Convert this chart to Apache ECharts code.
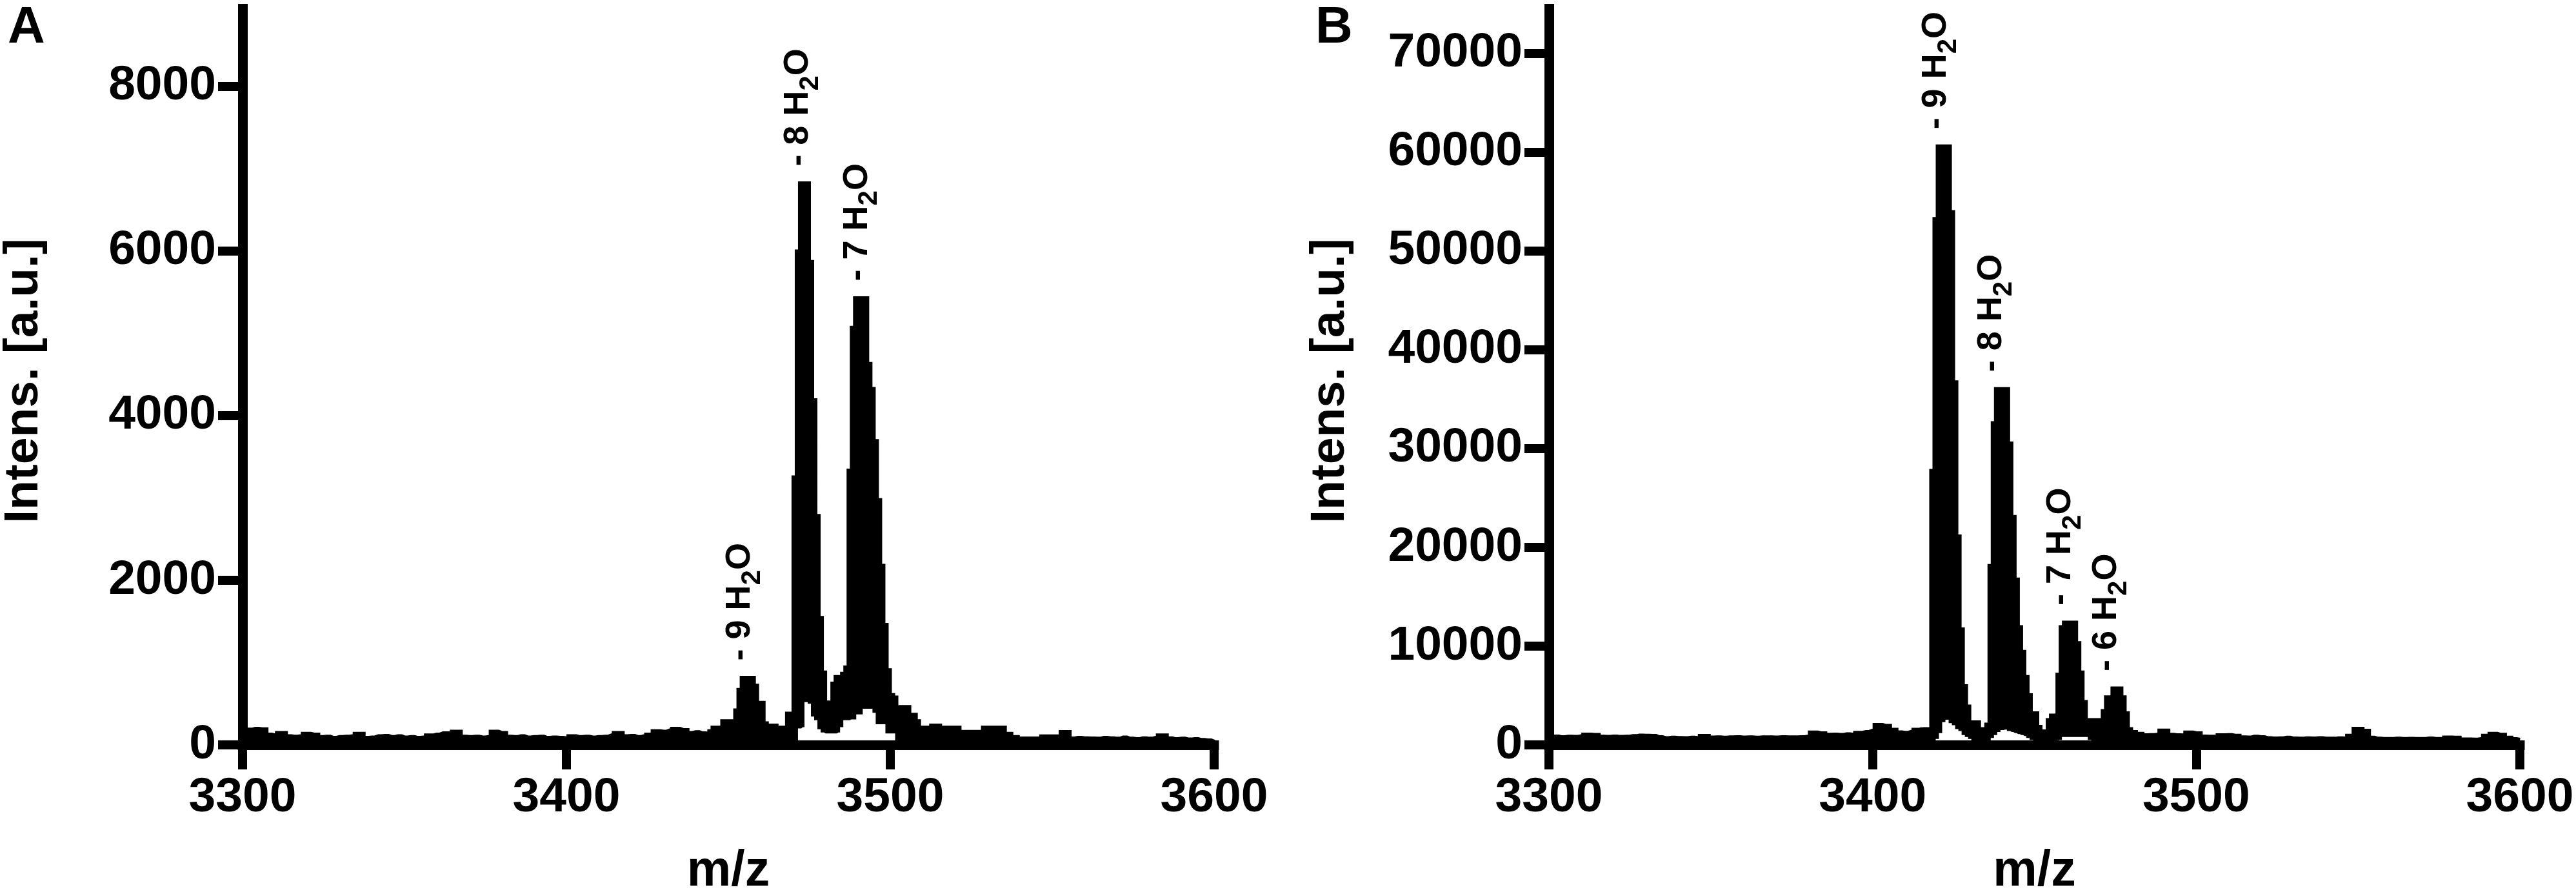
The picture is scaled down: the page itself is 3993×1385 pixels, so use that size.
<!DOCTYPE html>
<html><head><meta charset="utf-8">
<script src="https://cdn.jsdelivr.net/npm/echarts@6/dist/echarts.min.js"></script>
<style>html,body{margin:0;padding:0;background:#fff}#c{width:3993px;height:1385px}</style>
</head><body><div id="c"></div>
<script>
// ---------- Panel A : spectrum (upper envelope) [m/z, intensity] ----------
const spectrumA = [
[3300,100],[3302,170],[3304,180],[3306,175],[3308,110],[3310,100],[3312,130],[3314,90],[3316,85],[3318,90],
[3320,120],[3322,110],[3324,80],[3326,85],[3328,70],[3330,80],[3332,85],[3334,90],[3336,120],[3338,70],
[3340,75],[3342,90],[3344,95],[3346,80],[3348,90],[3350,75],[3352,80],[3354,70],[3356,75],[3358,100],
[3360,110],[3362,125],[3364,90],[3366,145],[3368,85],[3370,80],[3372,85],[3374,75],[3376,80],[3378,145],
[3380,130],[3382,85],[3384,80],[3386,90],[3388,75],[3390,80],[3392,85],[3394,70],[3396,75],[3398,70],
[3400,65],[3402,90],[3404,80],[3406,85],[3408,75],[3410,80],[3412,85],[3414,100],[3416,130],[3418,90],
[3420,95],[3422,80],[3424,90],[3426,110],[3428,150],[3430,145],[3432,160],[3434,180],[3436,165],[3438,130],
[3440,140],[3442,125],[3444,115],
[3445,150],[3446,194],[3447,194],[3448,194],[3449,272],[3450,272],[3451,272],[3452,272],[3453,403],[3454,652],
[3455,800],[3456,800],[3457,800],[3458,704],[3459,495],[3460,495],[3461,246],[3462,220],[3463,220],[3464,220],
[3465,194],[3466,194],[3467,194],[3468,194],[3469,364],[3470,364],[3471,3234],[3472,5977],[3473,6804],[3474,6804],
[3475,5851],[3476,4171],[3477,2765],[3478,1526],[3479,865],[3480,500],[3481,480],[3482,430],[3483,730],[3484,809],
[3485,809],[3486,848],[3487,926],[3488,3316],[3489,5051],[3490,5410],[3491,5410],[3492,5410],[3493,4611],[3494,4308],
[3495,3674],[3496,2958],[3497,2159],[3498,1443],[3499,892],[3500,589],[3501,560],[3502,430],[3503,445],[3504,445],
[3505,445],[3506,350],[3507,350],[3508,272],[3509,194],[3510,194],[3511,194],[3512,194],
[3514,220],[3516,170],[3518,194],[3520,194],[3522,144],[3524,144],[3526,144],[3528,144],[3530,194],[3532,194],
[3534,194],[3536,120],[3538,80],[3540,40],[3542,63],[3544,63],[3546,63],[3548,89],[3550,89],[3552,89],
[3554,141],[3556,63],[3558,70],[3560,65],[3562,63],[3564,60],[3566,70],[3568,65],[3570,60],[3572,75],
[3574,60],[3576,55],[3578,65],[3580,60],[3582,70],[3584,100],[3586,65],[3588,55],[3590,60],[3592,50],
[3594,55],[3596,45],[3598,40],[3600,25]
];
// Panel A : lower envelope of the trace (white pocket under the peaks)
const lowerA = [
[3471,0],[3472,200],[3473,215],[3474,520],[3475,500],[3476,345],[3477,300],[3478,190],[3479,150],[3480,140],
[3481,140],[3482,140],[3483,140],[3484,150],[3485,215],[3486,300],[3487,300],[3488,310],[3489,310],[3490,370],
[3491,370],[3492,440],[3493,440],[3494,440],[3495,390],[3496,250],[3497,250],[3498,250],[3499,140],[3500,140],
[3501,140],[3502,0]
];
// Panel A : peak annotations [m/z, peak intensity, water count]
const peaksA = [[3455,800,'9'],[3472.9,6804,'8'],[3491.1,5410,'7']];

// ---------- Panel B ----------
const spectrumB = [
[3300,700],[3302,720],[3304,650],[3306,700],[3308,680],[3310,750],[3312,920],[3314,880],[3316,700],[3318,690],
[3320,720],[3322,680],[3324,700],[3326,760],[3328,810],[3330,800],[3332,780],[3334,650],[3336,560],[3338,600],
[3340,570],[3342,560],[3344,600],[3346,560],[3348,790],[3350,620],[3352,640],[3354,600],[3356,630],[3358,650],
[3360,620],[3362,640],[3364,610],[3366,630],[3368,640],[3370,620],[3372,650],[3374,630],[3376,640],[3378,660],
[3380,700],[3382,1130],[3384,1050],[3386,900],[3388,920],[3390,880],[3392,950],[3394,900],[3396,1100],[3398,1180],
[3400,1300],[3402,1900],[3404,1800],[3406,1400],[3408,1150],[3410,1100],[3412,1200],[3414,1400],
[3415,1450],[3416,1465],[3417,1465],[3418,1465],[3419,27600],[3420,53100],[3421,60440],[3422,60440],[3423,60440],[3424,53800],
[3425,36570],[3426,20970],[3427,11570],[3428,5820],[3429,3760],[3430,2160],[3431,2160],[3432,2160],[3433,1465],[3434,1465],
[3435,1465],[3436,1920],[3437,17990],[3438,32440],[3439,35890],[3440,35890],[3441,35890],[3442,30380],[3443,22950],[3444,16610],
[3445,11790],[3446,9290],[3447,6740],[3448,4900],[3449,3070],[3450,3070],[3451,1700],[3452,1240],[3453,1240],[3454,1240],
[3455,2380],[3456,2840],[3457,2840],[3458,6970],[3459,11790],[3460,12250],[3461,12250],[3462,12250],[3463,10180],[3464,7200],
[3465,4220],[3466,2160],[3467,1465],[3468,2380],[3469,2380],[3470,2380],[3471,1700],[3472,3300],[3473,4680],[3474,4680],
[3475,5590],[3476,5590],[3477,4680],[3478,3070],[3479,1465],
[3480,1180],[3482,1000],[3484,850],[3486,870],[3488,900],[3490,1330],[3492,900],[3494,850],[3496,830],[3498,1130],
[3500,1050],[3502,720],[3504,700],[3506,700],[3508,850],[3510,860],[3512,800],[3514,640],[3516,620],[3518,700],
[3520,650],[3522,560],[3524,520],[3526,540],[3528,600],[3530,520],[3532,500],[3534,540],[3536,520],[3538,560],
[3540,510],[3542,500],[3544,540],[3546,520],[3548,800],[3550,1500],[3552,1300],[3554,600],[3556,500],[3558,480],
[3560,470],[3562,500],[3564,480],[3566,490],[3568,470],[3570,480],[3572,520],[3574,470],[3576,480],[3578,620],
[3580,600],[3582,430],[3584,420],[3586,410],[3588,450],[3590,800],[3592,1000],[3594,900],[3596,600],[3598,450],
[3600,400]
];
const lowerB = [
[3419,0],[3420,600],[3421,1200],[3422,2300],[3423,2550],[3424,2200],[3425,2000],[3426,1600],[3427,1400],[3428,1000],
[3429,800],[3430,600],[3431,400],[3432,300],[3436,300],[3437,700],[3438,1000],[3439,1300],[3440,1500],[3441,1550],
[3442,1400],[3443,1300],[3444,1200],[3445,1100],[3446,1000],[3447,900],[3448,700],[3449,500],[3450,400],[3451,300],
[3457,300],[3458,500],[3459,800],[3466,800],[3467,500],[3468,400],[3478,400],[3479,0]
];
const peaksB = [[3421,60440,'9'],[3438.1,35890,'8'],[3459.4,12250,'7'],[3473.6,5590,'6']];

// ---------- axes ----------
const xTicks = [3300,3400,3500,3600];
const yTicksA = [0,2000,4000,6000,8000];
const yTicksB = [0,10000,20000,30000,40000,50000,60000,70000];
const yMaxA = 9000, yMaxB = 75000;
const panelLetters = ['A','B'];
const xName = 'm/z', yName = 'Intens. [a.u.]';

const FONT = '"Liberation Sans", Arial, Helvetica, sans-serif';
const K = '#000';

function xAxisCfg(idx){
  return {
    gridIndex: idx, type:'value', min: xTicks[0], max: xTicks[xTicks.length-1], interval: 100, z: 10,
    axisLine:{show:true, onZero:false, lineStyle:{color:K, width:15, cap:'square'}},
    axisTick:{show:true, length:38, lineStyle:{color:K, width:14}},
    axisLabel:{show:true, margin:45, fontSize:75, fontWeight:'bold', color:K, fontFamily:FONT, formatter:v=>String(v)},
    splitLine:{show:false},
    name:xName, nameLocation:'middle', nameGap:158,
    nameTextStyle:{fontSize:77, fontWeight:'bold', color:K, fontFamily:FONT}
  };
}
function yAxisCfg(idx, max, ticks){
  return {
    gridIndex: idx, type:'value', min:0, max:max, z: 10,
    axisLine:{show:true, lineStyle:{color:K, width:15, cap:'butt'}},
    axisTick:{show:true, length:38, customValues:ticks, lineStyle:{color:K, width:14}},
    axisLabel:{show:true, margin:41, customValues:ticks, fontSize:75, fontWeight:'bold', color:K, fontFamily:FONT, formatter:v=>String(v)},
    splitLine:{show:false},
    name:yName, nameLocation:'middle', nameGap:301,
    nameTextStyle:{fontSize:75, fontWeight:'bold', color:K, fontFamily:FONT, padding:[0,20,0,0]}
  };
}
function traceSeries(idx, data){
  return {type:'line', xAxisIndex:idx, yAxisIndex:idx, data:data, step:'middle', symbol:'none',
    silent:true, z:2, lineStyle:{color:K, width:10, join:'miter'}, itemStyle:{color:K},
    areaStyle:{color:K, opacity:1}};
}
function pocketSeries(idx, data){
  return {type:'line', xAxisIndex:idx, yAxisIndex:idx, data:data, step:'middle', symbol:'none',
    silent:true, z:3, lineStyle:{width:0, opacity:0}, itemStyle:{color:'#fff'},
    areaStyle:{color:'#fff', opacity:1}};
}
function labelSeries(idx, peaks){
  return {type:'scatter', xAxisIndex:idx, yAxisIndex:idx, z:4, silent:true,
    symbol:'circle', symbolSize:1, itemStyle:{color:'rgba(0,0,0,0)'},
    data: peaks.map(p=>({value:[p[0],p[1]], n:p[2]})),
    label:{show:true, position:'top', distance:28, rotate:90, align:'left', verticalAlign:'middle', offset:[7,0],
      color:K, opacity:1,
      formatter: p => '{m|- ' + p.data.n + ' H}{s|2}{m|O}',
      rich:{
        m:{fontSize:54, fontWeight:'bold', color:K, fontFamily:FONT, lineHeight:67, verticalAlign:'top'},
        s:{fontSize:42, fontWeight:'bold', color:K, fontFamily:FONT, lineHeight:30, verticalAlign:'bottom'}
      }},
    labelLayout:{hideOverlap:false}
  };
}

const chart = echarts.init(document.getElementById('c'), null, {renderer:'canvas'});
chart.setOption({
  animation:false,
  backgroundColor:'#fff',
  textStyle:{fontFamily:FONT},
  title:[
    {text:panelLetters[0], left:12, top:4, padding:0, textStyle:{fontSize:80, fontWeight:'bold', color:K, fontFamily:FONT}},
    {text:panelLetters[1], left:2039, top:4, padding:0, textStyle:{fontSize:80, fontWeight:'bold', color:K, fontFamily:FONT}}
  ],
  grid:[
    {left:376, right:2111, top:6, bottom:231, containLabel:false, outerBoundsMode:'none'},
    {left:2401, right:87, top:6, bottom:231, containLabel:false, outerBoundsMode:'none'}
  ],
  xAxis:[xAxisCfg(0), xAxisCfg(1)],
  yAxis:[yAxisCfg(0, yMaxA, yTicksA), yAxisCfg(1, yMaxB, yTicksB)],
  series:[
    traceSeries(0, spectrumA), pocketSeries(0, lowerA), labelSeries(0, peaksA),
    traceSeries(1, spectrumB), pocketSeries(1, lowerB), labelSeries(1, peaksB)
  ]
});
</script></body></html>
